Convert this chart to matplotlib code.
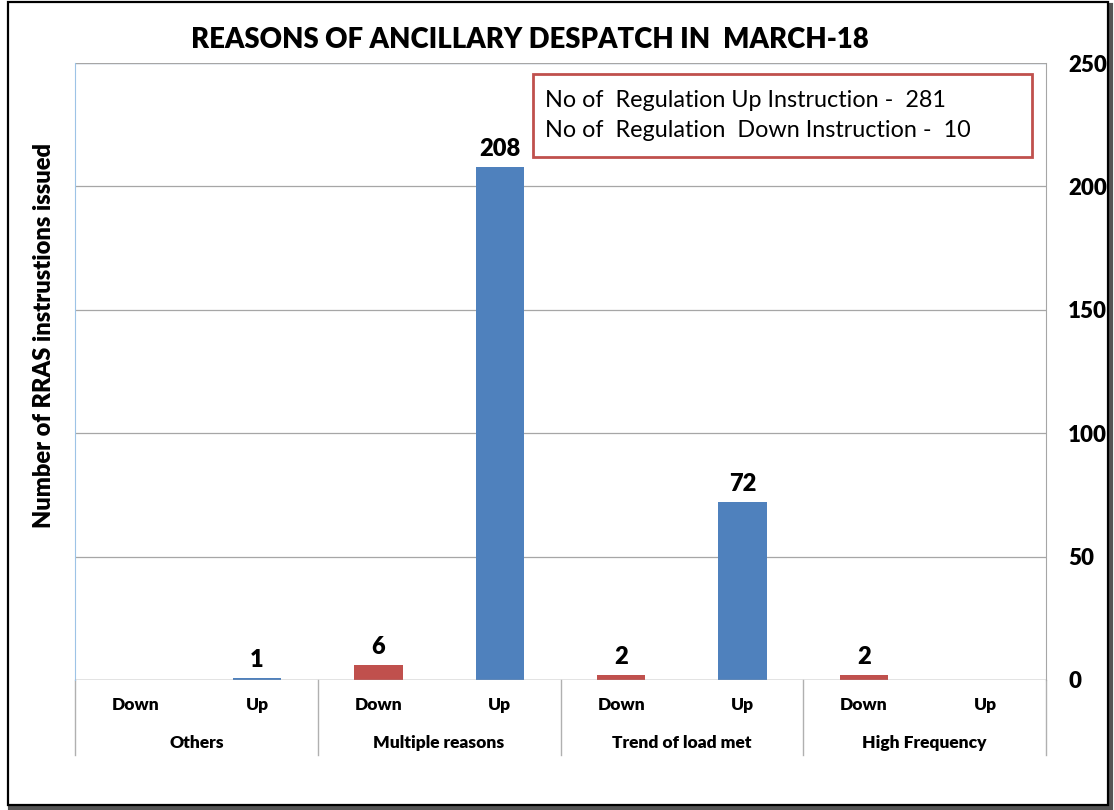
import matplotlib
matplotlib.use("Agg")
import matplotlib.pyplot as plt
from matplotlib.patches import Rectangle
from matplotlib.transforms import blended_transform_factory

# data
groups = ["Others", "Multiple reasons", "Trend of load met", "High Frequency"]
directions = ["Down", "Up"]
values = [0, 1, 6, 208, 2, 72, 2, 0]
bar_labels = [None, "1", "6", "208", "2", "72", "2", None]
y_ticks = [0, 50, 100, 150, 200, 250]

up_color = "#4F81BD"
down_color = "#C0504D"
BOLD = 800  # Lato bold is a bit light next to Calibri bold

plt.rcParams["font.family"] = ["Lato", "DejaVu Sans"]

fig = plt.figure(figsize=(11.14, 8.10), dpi=100)

# outer frame with a little shadow
fig.patches.append(Rectangle((0.009, 0.003), 0.988, 0.991, transform=fig.transFigure,
                             facecolor="none", edgecolor="#555555", lw=3, zorder=0))
fig.patches.append(Rectangle((0.007, 0.006), 0.988, 0.991, transform=fig.transFigure,
                             facecolor="white", edgecolor="black", lw=1.6, zorder=1))

ax = fig.add_axes([0.0673, 0.1605, 0.8717, 0.7617])
ax.set_zorder(2)
ax.patch.set_alpha(0)

n = len(values)
xs = list(range(n))
colors = [down_color if i % 2 == 0 else up_color for i in xs]
bars = ax.bar(xs, values, width=0.4, color=colors, zorder=3)

for b, lab in zip(bars, bar_labels):
    if lab is None:
        continue
    ax.annotate(lab, (b.get_x() + b.get_width() / 2, b.get_height()),
                xytext=(0, 5), textcoords="offset points", ha="center", va="bottom",
                fontsize=17, fontweight=BOLD)

ax.set_xlim(-0.5, n - 0.5)
ax.set_ylim(0, 250)
ax.set_yticks(y_ticks)
ax.yaxis.tick_right()
ax.tick_params(axis="y", length=0, pad=16, labelsize=16)
for t in ax.get_yticklabels():
    t.set_fontweight(BOLD)
ax.set_xticks([])
ax.grid(axis="y", color="#a6a6a6", lw=0.9, zorder=0)

for side in ["top", "bottom"]:
    ax.spines[side].set_visible(False)
ax.spines["left"].set_color("#9dc3e6")
ax.spines["right"].set_color("#a6a6a6")
ax.axhline(250, color="#b4c7e7", lw=1, zorder=1)
ax.axhline(0, color="#a6a6a6", lw=1, zorder=4)

# two-level category axis
tr = blended_transform_factory(ax.transData, ax.transAxes)
for i, v in enumerate(values):
    ax.text(i, -0.04, directions[i % 2], transform=tr, ha="center", va="center",
            fontsize=12.5, fontweight=BOLD)
for g, name in enumerate(groups):
    ax.text(2 * g + 0.5, -0.102, name, transform=tr, ha="center", va="center",
            fontsize=12.5, fontweight=BOLD)
for k in range(len(groups) + 1):
    ax.plot([2 * k - 0.5, 2 * k - 0.5], [0, -0.122], transform=tr, color="#b0b0b0",
            lw=1, clip_on=False)

ax.set_ylabel("Number of RRAS instrustions issued", fontsize=17, fontweight=BOLD)
ax.yaxis.set_label_coords(-0.021, 0.559)

fig.text(0.476, 0.951, "REASONS OF ANCILLARY DESPATCH IN  MARCH-18", ha="center",
         va="center", fontsize=19.8, fontweight=BOLD)

# summary box
ax.add_patch(Rectangle((0.4715, 0.848), 0.514, 0.134, transform=ax.transAxes,
                       facecolor="white", edgecolor=down_color, lw=2, zorder=5))
ax.text(0.484, 0.940, "No of  Regulation Up Instruction -  281", transform=ax.transAxes,
        fontsize=16.8, va="center", zorder=6)
ax.text(0.484, 0.891, "No of  Regulation  Down Instruction -  10", transform=ax.transAxes,
        fontsize=16.8, va="center", zorder=6)

fig.savefig("out.png", dpi=100)
